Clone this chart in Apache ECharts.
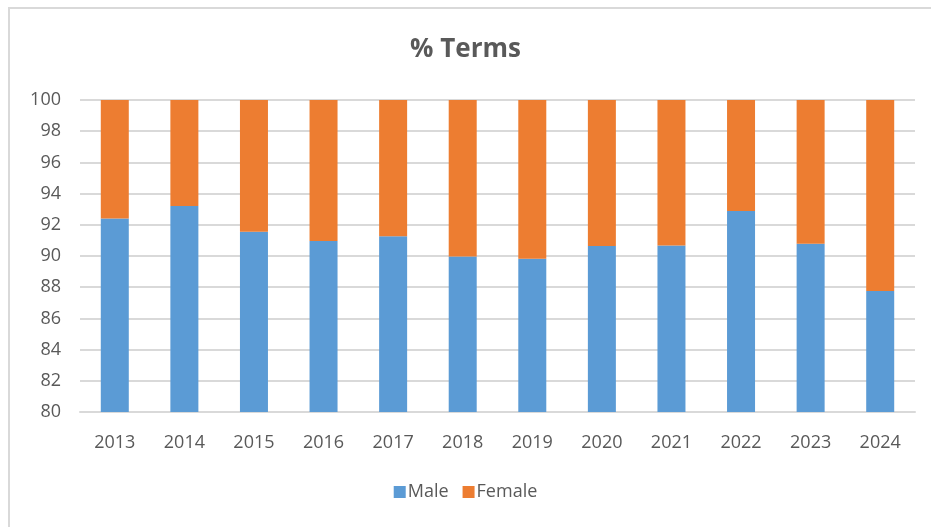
<!DOCTYPE html>
<html lang="en">
<head>
    <meta charset="UTF-8">
    <title>% Terms</title>
    <script src="https://cdn.jsdelivr.net/npm/echarts@6/dist/echarts.min.js"></script>
    <style>
        html, body { margin: 0; padding: 0; background: #fff; overflow: hidden; }
        #frame {
            position: absolute;
            left: 8px; top: 7px;
            width: 940px; height: 540px;
            border-left: 2px solid #d9d9d9;
            border-top: 2px solid #d9d9d9;
        }
        #chart {
            position: absolute;
            left: 0; top: 0;
            width: 931px; height: 527px;
        }
    </style>
</head>
<body>
    <div id="frame"></div>
    <div id="chart"></div>
    <script>
        var years = ['2013', '2014', '2015', '2016', '2017', '2018', '2019', '2020', '2021', '2022', '2023', '2024'];
        var male = [92.4, 93.2, 91.55, 90.96, 91.26, 89.96, 89.83, 90.64, 90.68, 92.89, 90.79, 87.75];
        var female = [7.6, 6.8, 8.45, 9.04, 8.74, 10.04, 10.17, 9.36, 9.32, 7.11, 9.21, 12.25];

        var font = '"Open Sans", "Liberation Sans", sans-serif';
        var myChart = echarts.init(document.getElementById('chart'));

        var option = {
            animation: false,
            title: {
                text: '% Terms',
                left: 'center',
                top: 32,
                textStyle: { fontFamily: font, fontSize: 26, fontWeight: 'bold', color: '#595959' }
            },
            legend: {
                data: ['Male', 'Female'],
                bottom: 21,
                left: 'center',
                itemWidth: 12,
                itemHeight: 12,
                itemGap: 14,
                icon: 'rect',
                textStyle: { fontFamily: font, fontSize: 18, color: '#595959', padding: [0, 0, 0, -3] }
            },
            grid: { left: 80, right: 16, top: 100, bottom: 115 },
            xAxis: {
                type: 'category',
                data: years,
                axisLine: { lineStyle: { color: '#d9d9d9', width: 2 } },
                axisTick: { show: false },
                axisLabel: { fontFamily: font, fontSize: 18, color: '#595959', margin: 22 }
            },
            yAxis: {
                type: 'value',
                min: 80,
                max: 100,
                interval: 2,
                axisLine: { show: false },
                axisTick: { show: false },
                splitLine: { lineStyle: { color: '#d9d9d9', width: 2 } },
                axisLabel: { fontFamily: font, fontSize: 18, color: '#595959', margin: 19 }
            },
            series: [
                {
                    name: 'Male', type: 'bar', stack: 'total', data: male,
                    barWidth: 28, itemStyle: { color: '#5b9bd5' }
                },
                {
                    name: 'Female', type: 'bar', stack: 'total', data: female,
                    barWidth: 28, itemStyle: { color: '#ed7d31' }
                }
            ]
        };

        myChart.setOption(option);
    </script>
</body>
</html>
